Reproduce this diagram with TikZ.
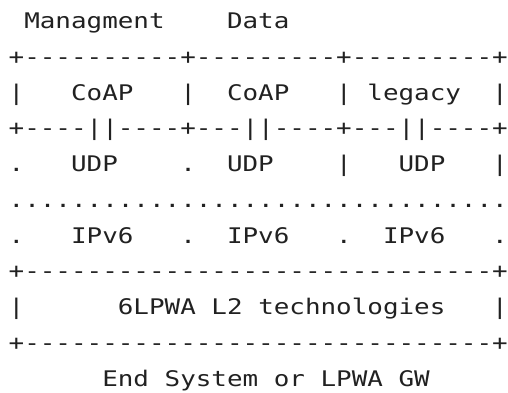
\documentclass[tikz,border=0pt]{standalone}
\usepackage{fontspec}
% Monospaced face, widened so the character grid is 15.6pt per column
\setmonofont[FakeStretch=1.205]{DejaVu Sans Mono}
\begin{document}
\begin{tikzpicture}[x=1pt, y=-1pt,
  asciirow/.style={anchor=base west, inner sep=0pt, outer sep=0pt,
    font=\ttfamily\fontsize{21.5}{21.5}\selectfont, text=black!87}]
\useasboundingbox (0,0) rectangle (508,392);
\def\pitch{35.75}
\node[asciirow] (heads)   at (8.7, 28.5+0*\pitch) {~Managment~~~~Data};
\node[asciirow] (topedge) at (8.7, 28.5+1*\pitch) {+----------+---------+---------+};
\node[asciirow] (apps)    at (8.7, 28.5+2*\pitch) {|~~~CoAP~~~|~~CoAP~~~|~legacy~~|};
\node[asciirow] (appedge) at (8.7, 28.5+3*\pitch) {+----||----+---||----+---||----+};
\node[asciirow] (udp)     at (8.7, 28.5+4*\pitch) {.~~~UDP~~~~.~~UDP~~~~|~~~UDP~~~|};
\node[asciirow] (dotline) at (8.7, 28.5+5*\pitch) {................................};
\node[asciirow] (ipv6)    at (8.7, 28.5+6*\pitch) {.~~~IPv6~~~.~~IPv6~~~.~~IPv6~~~.};
\node[asciirow] (l2top)   at (8.7, 28.5+7*\pitch) {+------------------------------+};
\node[asciirow] (l2)      at (8.7, 28.5+8*\pitch) {|~~~~~~6LPWA~L2~technologies~~~|};
\node[asciirow] (l2bot)   at (8.7, 28.5+9*\pitch) {+------------------------------+};
\node[asciirow] (caption) at (8.7, 28.5+10*\pitch) {~~~~~~End~System~or~LPWA~GW};
\end{tikzpicture}
\end{document}
